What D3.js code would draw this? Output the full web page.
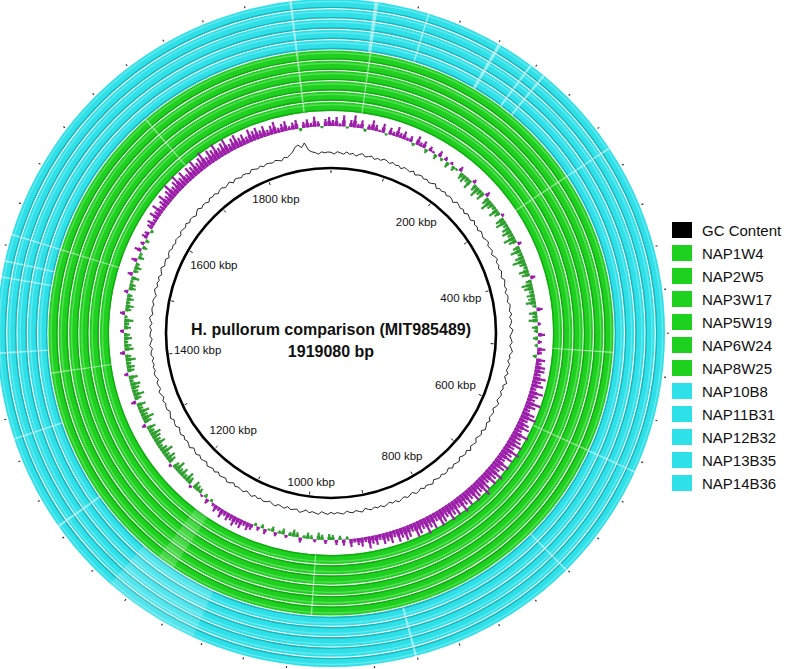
<!DOCTYPE html>
<html lang="en">
<head>
<meta charset="UTF-8">
<title>H. pullorum comparison</title>
<script src="https://d3js.org/d3.v7.min.js"></script>
<style>
  body { margin: 0; background: #fff; }
  svg { display: block; font-family: "Liberation Sans", Arial, sans-serif; }
</style>
</head>
<body>
<svg width="796" height="669"></svg>
<script>
// reference genome
const genomeLength = 1919080;
const titleLines = ["H. pullorum comparison (MIT985489)", "1919080 bp"];

// rings, innermost first
const greenStrains = ["NAP1W4", "NAP2W5", "NAP3W17", "NAP5W19", "NAP6W24", "NAP8W25"];
const cyanStrains = ["NAP10B8", "NAP11B31", "NAP12B32", "NAP13B35", "NAP14B36"];
const legendNames = ["GC Content"].concat(greenStrains, cyanStrains);

// backbone ticks (kbp)
const minorTicks = d3.range(0, 1900, 100);
const labelTicks = [200, 400, 600, 800, 1000, 1200, 1400, 1600, 1800];
const outerTicks = d3.range(0, 1919, 40);

// GC skew, one value per degree (purple = positive, green = negative)
const gcSkew = [
  .06,.09,.03,.11,-.02,.07,.12,.04,.08,-.03,.05,.1,.06,.02,.09,-.02,.07,.04,.1,.05,
  .08,.03,.06,-.03,.09,.04,.07,-.04,.05,.02,-.05,.06,-.03,.04,-.06,.03,-.05,-.02,.05,-.07,
  -.08,-.05,-.1,.04,-.07,-.11,-.06,-.09,.05,-.08,-.12,-.07,-.04,-.1,-.06,.03,-.09,-.11,-.05,-.08,
  -.1,-.06,-.12,-.08,.04,-.07,-.11,-.05,-.09,-.13,-.07,-.04,-.1,-.08,.05,-.06,-.11,-.09,-.05,-.08,
  -.07,-.1,-.04,.06,-.08,-.05,-.09,.03,-.06,-.04,.07,-.05,.04,-.03,.08,.05,-.04,.09,.06,.1,
  .1,.07,.13,.09,.12,.06,.14,.1,.08,.15,.11,.07,.13,.16,.09,.12,.14,.08,.17,.11,
  .13,.16,.1,.18,.12,.15,.09,.17,.14,.11,.18,.13,.16,.1,.15,.19,.12,.14,.17,.11,
  .15,.12,.18,.1,.16,.13,.17,.11,.14,.16,.09,.15,.12,.17,.1,.13,.15,.08,.12,.14,
  .1,.13,.07,.12,.09,.11,.06,.1,.08,.12,.05,.09,.07,.04,.08,-.03,.06,-.04,.05,-.05,
  -.06,.04,-.05,-.07,.03,-.04,-.06,-.03,.05,-.05,-.07,-.04,.03,-.06,-.03,.04,-.05,-.02,.05,-.04,
  .04,-.03,.06,.08,.05,.09,.07,.1,.06,.08,.05,.09,.04,.07,.03,-.03,.05,-.04,.02,-.05,
  -.06,-.08,.03,-.07,-.1,-.05,-.09,-.06,-.11,-.07,.03,-.08,-.1,-.06,-.12,-.08,-.05,-.1,-.07,-.09,
  -.11,-.06,-.09,.04,-.08,-.12,-.07,-.1,-.05,-.09,.05,-.07,-.11,-.06,-.08,-.1,-.04,-.09,.04,-.07,
  -.08,-.05,-.1,-.06,.05,-.09,-.07,-.04,-.08,-.06,.04,-.07,-.05,-.09,-.03,.05,-.06,-.08,-.04,-.07,
  -.05,.04,-.07,-.06,-.03,-.08,.05,-.05,-.07,-.04,.06,-.06,-.03,.07,-.05,.04,-.04,.06,.05,-.03,
  .06,.08,.04,.1,.07,.12,.06,.09,.13,.08,.11,.15,.09,.12,.16,.1,.14,.08,.13,.11,
  .15,.1,.13,.17,.09,.14,.12,.16,.1,.13,.15,.08,.12,.14,.09,.11,.07,.13,.1,.12,
  .08,.11,.06,.09,.12,.05,.08,.1,.04,.07,.09,-.03,.06,.08,.04,.1,.05,-.02,.07,.09
];

// GC content deviation from mean (%), one value per degree
const gcContent = [
  .2,-.3,.4,.1,-.2,.5,-.1,.3,-.4,.2,.6,-.2,.1,.4,-.3,.2,-.1,.5,.3,-.2,
  .4,-.1,.2,-.4,.3,.1,-.2,.5,-.3,.2,.4,-.1,.3,-.2,.1,.6,-.3,.2,-.1,.4,
  -.2,.3,.1,-.4,.5,.2,-.1,.3,-.3,.4,.1,-.2,.6,-.1,.2,-.3,.4,.1,-.2,.3,
  .5,-.2,.1,.3,-.4,.2,.6,-.1,.3,-.2,.4,.1,-.3,.5,.2,-.1,.3,-.4,.2,.1,
  -.3,.4,.2,-.1,.5,-.2,.3,.1,-.4,.6,.2,-.3,.1,.4,-.2,.3,.7,-.1,.2,-.3,
  .4,.1,-.2,.5,-.3,.2,.8,-.1,.3,-.2,.4,.1,-.3,.6,.2,-.4,.3,.1,-.2,.5,
  -.1,.3,.6,-.2,.4,.1,-.3,.5,.2,-.1,.7,-.2,.3,.1,-.4,.4,.2,-.1,.5,-.3,
  .2,.4,-.2,.3,.1,-.3,.6,.2,-.1,.4,-.2,.3,.5,-.3,.1,.4,-.2,.2,.6,-.1,
  .3,-.3,.2,.5,-.1,.3,-.2,.4,.1,-.4,.5,.2,-.2,.3,.1,-.3,.4,.2,-.1,.3,
  -.2,.4,.1,-.3,.5,.2,-.1,.3,-.4,.2,.6,-.2,.1,.3,-.3,.4,.1,-.2,.5,.2,
  -.3,.2,.4,-.1,.3,-.2,.5,.1,-.3,.4,.2,-.1,.3,-.4,.2,.5,-.2,.1,.3,-.3,
  .4,-.1,.2,.5,-.3,.1,.3,-.2,.4,.1,-.3,.6,.2,-.1,.3,-.2,.4,.1,-.4,.3,
  .2,-.2,.5,.1,-.3,.3,.2,-.1,.4,-.3,.2,.5,-.2,.1,.3,-.4,.2,.4,-.1,.3,
  -.1,.3,-.3,.4,.2,-.2,.5,.1,-.3,.3,.2,-.1,.4,-.2,.3,.6,-.3,.1,.2,-.2,
  .3,.1,-.4,.2,.5,-.2,.3,-.1,.4,-.3,.2,.6,-.2,.1,.3,-.4,.2,.4,-.1,.2,
  -.2,.3,.1,-.3,.4,.2,-.1,.5,-.2,.3,.1,-.4,.2,.6,-.1,.3,.2,-.3,.4,.1,
  .4,-.2,.3,.5,-.1,.2,.6,-.3,.4,.2,-.2,.3,.1,-.3,.5,.2,-.1,.4,-.2,.3,
  .2,-.1,.4,.1,-.3,.5,.2,.8,1.4,2.6,3.1,2.2,3.4,1.2,.6,.3,-.2,.4,.1,.3
];

// low identity regions (kbp start, kbp end) seen on all rings / per group
const sharedGaps = [[1881, 1883], [42, 43.5], [1530, 1531.5], [610, 611.5]];
const cyanGaps = [[40, 42], [160, 163], [195, 197], [210, 212], [1090, 1180], [1340, 1341.5], [1490, 1491.5], [1505, 1506.5], [880, 882], [720, 721.5], [300, 301.5], [1250, 1252], [1420, 1421.5], [90, 91.5]];
const greenGaps = [[1395, 1396.5], [1140, 1160], [980, 981.5], [300, 301.5], [1700, 1701.5], [500, 501.5]];

const cx = 331, cy = 333;
const svg = d3.select("svg");
const g = svg.append("g").attr("transform", `translate(${cx},${cy})`);

const angle = d3.scaleLinear().domain([0, genomeLength / 1000]).range([0, 2 * Math.PI]);
const degAngle = d3.scaleLinear().domain([0, 360]).range([0, 2 * Math.PI]);

const ringOrder = greenStrains.concat(cyanStrains);
const ringScale = d3.scaleBand().domain(ringOrder).range([222, 334]).paddingInner(0.12);
const colorOf = name => greenStrains.includes(name) ? "#1fd11f" : "#2ee0e8";
const darkOf = name => greenStrains.includes(name) ? "#14a814" : "#1fb3bb";

// comparison rings
ringOrder.forEach(name => {
  const r0 = ringScale(name), r1 = r0 + ringScale.bandwidth();
  const ring = g.append("g");
  ring.append("path")
    .attr("d", d3.arc()({ innerRadius: r0, outerRadius: r1, startAngle: 0, endAngle: 2 * Math.PI }))
    .attr("fill", colorOf(name));
  ring.append("circle").attr("r", r0 + 0.7).attr("fill", "none")
    .attr("stroke", darkOf(name)).attr("stroke-width", 1.4);
  ring.append("circle").attr("r", r1 - 2.5).attr("fill", "none")
    .attr("stroke", "#fff").attr("stroke-opacity", 0.25).attr("stroke-width", 1.5);
  const gaps = sharedGaps.concat(greenStrains.includes(name) ? greenGaps : cyanGaps);
  ring.selectAll("path.gap").data(gaps).join("path")
    .attr("class", "gap")
    .attr("d", d => d3.arc()({ innerRadius: r0, outerRadius: r1, startAngle: angle(d[0]), endAngle: angle(d[1]) }))
    .attr("fill", "#fff").attr("fill-opacity", d => (d[1] - d[0]) > 10 ? 0.18 : 0.5);
});

// outer ticks
g.selectAll("line.outer").data(outerTicks).join("line")
  .attr("x1", d => 336 * Math.sin(angle(d))).attr("y1", d => -336 * Math.cos(angle(d)))
  .attr("x2", d => 338 * Math.sin(angle(d))).attr("y2", d => -338 * Math.cos(angle(d)))
  .attr("stroke", "#333").attr("stroke-width", 1.2);

// GC skew as thin spikes from the baseline
const skewBase = 207;
const skewScale = d3.scaleLinear().domain([0, 0.2]).range([0, 20]);
const skewColor = d => d > 0 ? "#9c1fa9" : "#2f9f2f";
const skewG = g.append("g");
// soft envelope under the spikes
skewG.selectAll("path.env").data(gcSkew).join("path")
  .attr("class", "env")
  .attr("d", (d, i) => d3.arc()({
    innerRadius: d > 0 ? skewBase : skewBase - skewScale(-d) * 0.55,
    outerRadius: d > 0 ? skewBase + skewScale(d) * 0.55 : skewBase,
    startAngle: degAngle(i), endAngle: degAngle(i + 1)
  }))
  .attr("fill", skewColor);
skewG.selectAll("line.spike").data(gcSkew).join("line")
  .attr("class", "spike")
  .each(function (d, i) {
    const a = degAngle(i + 0.5), s = Math.sin(a), c = Math.cos(a);
    const r1 = skewBase + (d > 0 ? skewScale(d) : -skewScale(-d));
    d3.select(this)
      .attr("x1", skewBase * s).attr("y1", -skewBase * c)
      .attr("x2", r1 * s).attr("y2", -r1 * c);
  })
  .attr("stroke", skewColor).attr("stroke-width", 2.2);

// GC content
const gcBase = 180;
const gcScale = d3.scaleLinear().domain([0, 1]).range([0, 3.5]);
g.append("path")
  .attr("d", d3.lineRadial()
    .angle((d, i) => degAngle(i))
    .radius(d => gcBase + gcScale(d))(gcContent.concat([gcContent[0]])))
  .attr("fill", "none").attr("stroke", "#111").attr("stroke-width", 0.9);

// backbone
const rBack = 165;
g.append("circle").attr("r", rBack).attr("fill", "none").attr("stroke", "#000").attr("stroke-width", 2.6);
g.selectAll("line.minor").data(minorTicks).join("line")
  .attr("x1", d => (rBack - 2) * Math.sin(angle(d))).attr("y1", d => -(rBack - 2) * Math.cos(angle(d)))
  .attr("x2", d => (rBack - 5) * Math.sin(angle(d))).attr("y2", d => -(rBack - 5) * Math.cos(angle(d)))
  .attr("stroke", "#222").attr("stroke-width", 1);

g.selectAll("text.tick").data(labelTicks).join("text")
  .attr("class", "tick")
  .each(function (d) {
    const a = angle(d), s = Math.sin(a), c = Math.cos(a);
    const half = Math.abs(s) * 24 + Math.abs(c) * 5.5;
    const r = 159 - half;
    d3.select(this).attr("x", r * s).attr("y", -r * c);
  })
  .attr("text-anchor", "middle").attr("dominant-baseline", "central")
  .attr("font-size", 11.5).attr("fill", "#111")
  .text(d => d + " kbp");

// title
g.selectAll("text.title").data(titleLines).join("text")
  .attr("class", "title")
  .attr("x", 0).attr("y", (d, i) => 2 + i * 22)
  .attr("text-anchor", "middle").attr("font-weight", "bold").attr("font-size", 16)
  .attr("fill", "#111")
  .text(d => d);

// legend
const legend = svg.append("g").attr("transform", "translate(672,0)");
const rowY = d3.scalePoint().domain(legendNames).range([230, 483]);
legend.selectAll("rect").data(legendNames).join("rect")
  .attr("x", 0).attr("y", d => rowY(d) - 8).attr("width", 20).attr("height", 16)
  .attr("fill", (d, i) => i === 0 ? "#000" : colorOf(d));
legend.selectAll("text").data(legendNames).join("text")
  .attr("x", 30).attr("y", d => rowY(d))
  .attr("dominant-baseline", "central").attr("font-size", 15).attr("fill", "#111")
  .text(d => d);
</script>
</body>
</html>
